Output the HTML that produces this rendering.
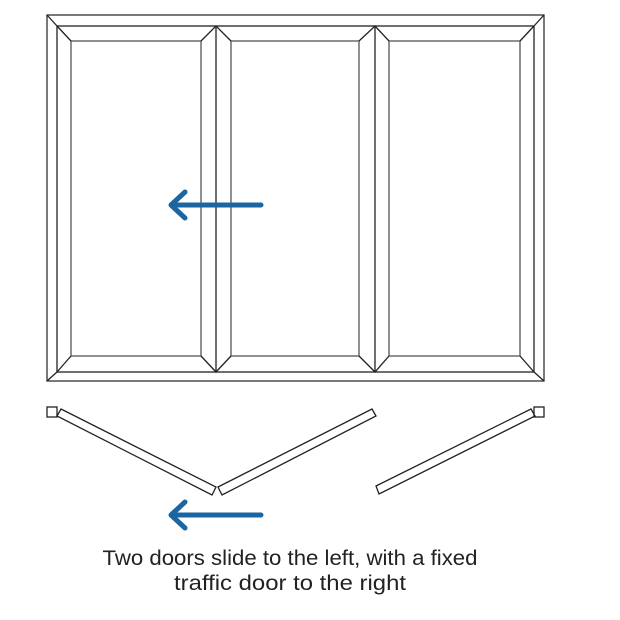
<!DOCTYPE html>
<html><head><style>html,body{margin:0;padding:0;background:#fff}svg{display:block}</style></head>
<body>
<svg width="620" height="620" viewBox="0 0 620 620" xmlns="http://www.w3.org/2000/svg">
<g fill="none" stroke="#222" stroke-width="1.3">
<rect x="47" y="15" width="497" height="366" stroke="#333"/>
<rect x="57" y="26" width="477" height="346"/>
<line x1="47" y1="15" x2="57" y2="26"/><line x1="544" y1="15" x2="534" y2="26"/>
<line x1="47" y1="381" x2="57" y2="372"/><line x1="544" y1="381" x2="534" y2="372"/>
<rect x="71" y="41" width="130" height="315" stroke="#555"/>
<rect x="231" y="41" width="128" height="315" stroke="#555"/>
<rect x="389" y="41" width="131" height="315" stroke="#555"/>
<line x1="216" y1="26" x2="216" y2="372"/><line x1="375" y1="26" x2="375" y2="372"/>
<path d="M57 26L71 41M57 372L71 356M201 41L216 26L231 41M201 356L216 372L231 356M359 41L375 26L389 41M359 356L375 372L389 356M534 26L520 41M534 372L520 356"/>
<rect x="47" y="407" width="10" height="10"/>
<rect x="534" y="407" width="10" height="10"/>
<polygon points="61,409 216,487 212,495 57,416"/>
<polygon points="218,487 372,409 376,416 222,495"/>
<polygon points="531,409 376,486 379,494 535,416"/>
</g>
<g stroke="#1b66a0" stroke-width="5" fill="none" stroke-linecap="round" stroke-linejoin="round">
<path d="M261 205H172M185 192L171 205L185 218"/>
<path d="M261 515H172M185 502L171 515L185 528"/>
</g>
<g font-family="Liberation Sans, sans-serif" font-size="21" fill="#222" text-anchor="middle">
<text x="290" y="565" textLength="375" lengthAdjust="spacingAndGlyphs">Two doors slide to the left, with a fixed</text>
<text x="290" y="590" textLength="232" lengthAdjust="spacingAndGlyphs">traffic door to the right</text>
</g>
</svg>
</body></html>
